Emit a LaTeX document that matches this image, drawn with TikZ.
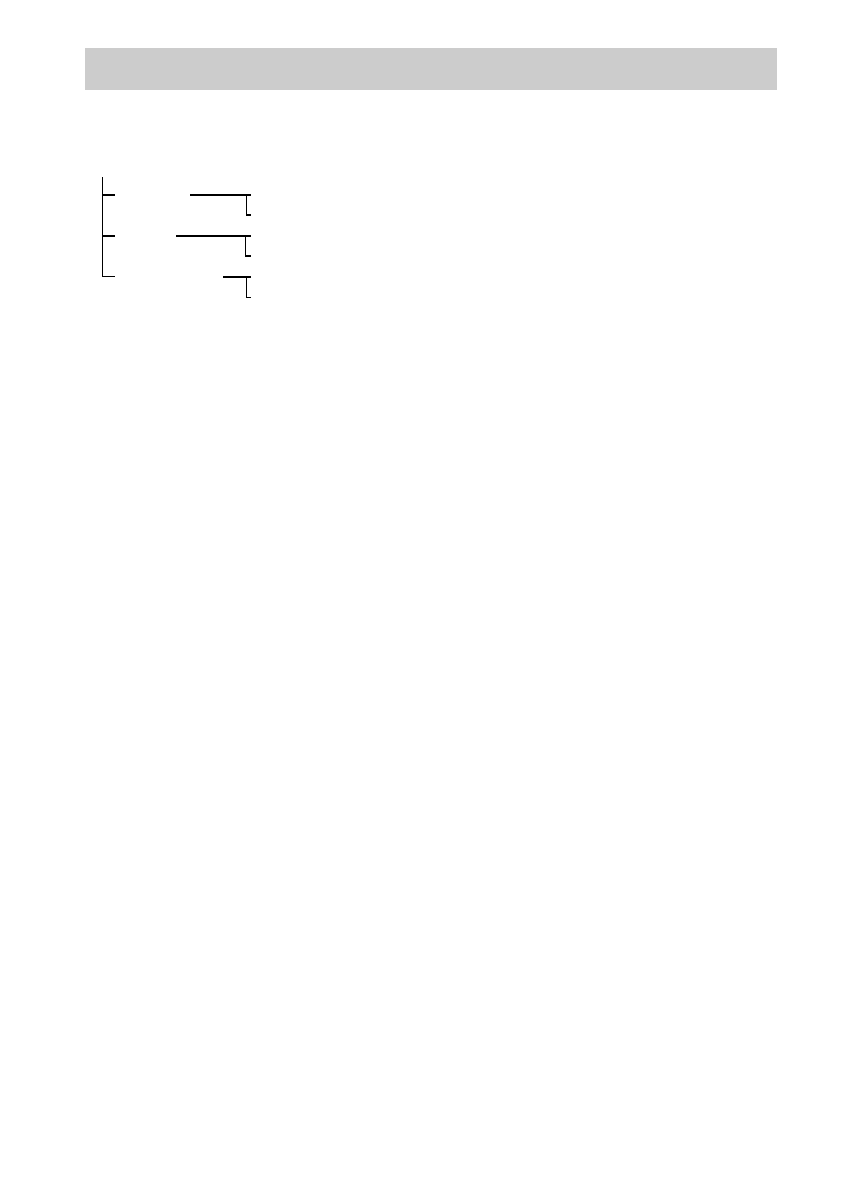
\documentclass[tikz,border=0pt]{standalone}
\begin{document}
\begin{tikzpicture}[x=1pt,y=-1pt,
  treeline/.style={line width=1.1pt,black,line cap=butt},
  headerbar/.style={fill={rgb,255:red,204;green,204;blue,204},draw=none}]
\useasboundingbox[fill=white] (0,0) rectangle (841,1191);
% header bar
\path[headerbar] (85,48) rectangle (777,90);
% tree trunk
\coordinate (top) at (102.7,177);
\coordinate (b1) at (102.7,195);
\coordinate (b2) at (102.7,236);
\coordinate (b3) at (102.7,276.5);
\draw[treeline] (top) -- (b3) -- ++(12,0);
\draw[treeline] (b1) -- ++(12,0);
\draw[treeline] (b2) -- ++(12,0);
% branch 1
\draw[treeline] (190,195) -- (251,195);
\draw[treeline] (246.3,195) -- (246.3,215) -- (251,215);
% branch 2
\draw[treeline] (176,236) -- (251,236);
\draw[treeline] (245.3,236) -- (245.3,256) -- (251,256);
% branch 3
\draw[treeline] (223,277) -- (251,277);
\draw[treeline] (246.3,277) -- (246.3,297.7) -- (251,297.7);
\end{tikzpicture}
\end{document}
